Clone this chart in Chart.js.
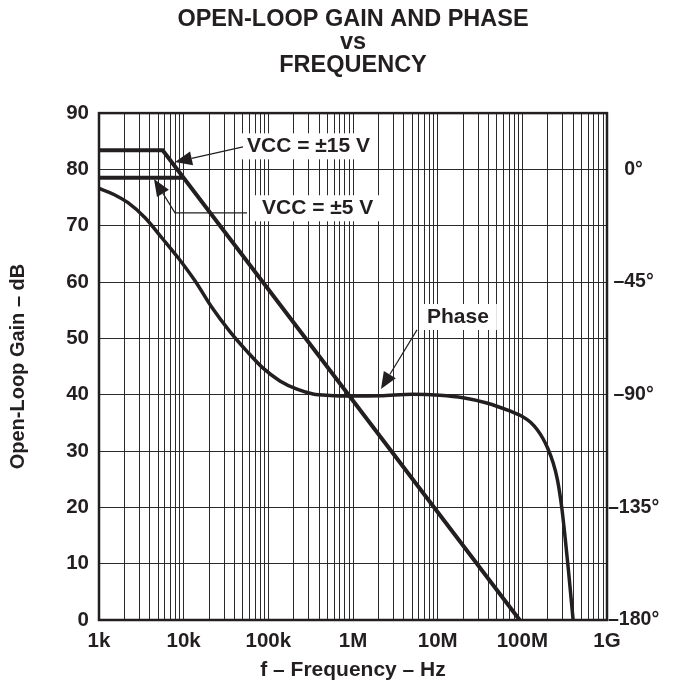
<!DOCTYPE html>
<html><head><meta charset="utf-8">
<script src="https://cdn.jsdelivr.net/npm/chart.js@4.4.1/dist/chart.umd.min.js"></script>
<style>html,body{margin:0;padding:0;background:#fff;}canvas{display:block;}</style>
</head><body>
<canvas id="c" width="676" height="683"></canvas>
<script>
// ---- data ----
const titleLines = ['OPEN-LOOP GAIN AND PHASE', 'vs', 'FREQUENCY'];
const freqDecades = [1e3, 1e4, 1e5, 1e6, 1e7, 1e8, 1e9];
const freqLabels = ['1k', '10k', '100k', '1M', '10M', '100M', '1G'];
const gainTicks = [0, 10, 20, 30, 40, 50, 60, 70, 80, 90];
const phaseTicks = [-180, -135, -90, -45, 0];
const phaseTickLabels = ['\u2013180\u00b0', '\u2013135\u00b0', '\u201390\u00b0', '\u201345\u00b0', '0\u00b0'];

const gain15Freq = [1000, 5650, 93e6];
const gain15dB = [83.4, 83.4, 0];
const gain5Freq = [1000, 9800];
const gain5dB = [78.5, 78.5];

const phaseFreq = [1000, 1500, 2200, 3500, 5550, 8600, 13600, 21600, 35000, 56000, 86000, 137000, 218000, 337000, 535000, 920000, 2.1e6, 5.1e6, 10.6e6, 20e6, 38e6, 71e6, 101e6, 125e6, 150e6, 175e6, 200e6, 230e6, 260e6, 292e6, 320e6, 350e6, 398e6];
const phaseDeg = [-7.6, -10, -13.3, -19.3, -27.4, -35.3, -44.5, -55.2, -64.7, -72.7, -79.3, -84.5, -87.8, -89.7, -90.3, -90.5, -90.4, -89.8, -90.2, -91.2, -93.3, -96.5, -98.8, -101, -104, -107.5, -111.5, -117, -124, -135, -147, -160, -180];

// annotation labels and their anchors (frequency, gain dB)
const annLabels = ['VCC = \u00b115 V', 'VCC = \u00b15 V', 'Phase'];
const annTextAt = [[56000, 84.1], [84100, 73.1], [7.48e6, 53.8]];
const annArrows = [
  [[50200, 84.0], [7900, 81.3]],
  [[56000, 72.3], [7900, 72.3], [4460, 78.3]],
  [[5.7e6, 51.5], [2.14e6, 41.0]]
];

// ---- chart ----
const INK = '#231f20';
const FONT = '"Liberation Sans", Arial, Helvetica, sans-serif';
const toXY = (xs, ys) => xs.map((x, i) => ({x: x, y: ys[i]}));

const annotationPlugin = {
  id: 'ann',
  beforeDatasetsDraw(chart) {
    const ctx = chart.ctx, sx = chart.scales.x, sy = chart.scales.y;
    ctx.save();
    ctx.font = 'bold 21px ' + FONT;
    annLabels.forEach((t, i) => {
      const x = sx.getPixelForValue(annTextAt[i][0]);
      const y = sy.getPixelForValue(annTextAt[i][1]);
      const w = ctx.measureText(t).width;
      ctx.fillStyle = '#fff';
      ctx.fillRect(x - 7, y - 13, w + 15, 26);
    });
    ctx.restore();
  },
  afterDatasetsDraw(chart) {
    const ctx = chart.ctx, sx = chart.scales.x, sy = chart.scales.y;
    const a = chart.chartArea;
    ctx.save();
    ctx.strokeStyle = INK; ctx.fillStyle = INK; ctx.lineWidth = 1.2;
    annArrows.forEach(path => {
      const pts = path.map(p => [sx.getPixelForValue(p[0]), sy.getPixelForValue(p[1])]);
      const n = pts.length;
      const tip = pts[n - 1], prev = pts[n - 2];
      const dx = tip[0] - prev[0], dy = tip[1] - prev[1];
      const L = Math.hypot(dx, dy), ux = dx / L, uy = dy / L;
      const hl = 17, hw = 7;
      const bx = tip[0] - ux * hl, by = tip[1] - uy * hl;
      ctx.beginPath();
      ctx.moveTo(pts[0][0], pts[0][1]);
      for (let k = 1; k < n - 1; k++) ctx.lineTo(pts[k][0], pts[k][1]);
      ctx.lineTo(bx, by);
      ctx.stroke();
      ctx.beginPath();
      ctx.moveTo(tip[0], tip[1]);
      ctx.lineTo(bx - uy * hw, by + ux * hw);
      ctx.lineTo(bx + uy * hw, by - ux * hw);
      ctx.closePath();
      ctx.fill();
    });
    ctx.font = 'bold 21px ' + FONT;
    ctx.textBaseline = 'middle';
    ctx.textAlign = 'left';
    annLabels.forEach((t, i) => {
      ctx.fillText(t, sx.getPixelForValue(annTextAt[i][0]), sy.getPixelForValue(annTextAt[i][1]));
    });
    ctx.lineWidth = 2.5;
    ctx.strokeRect(a.left, a.top, a.right - a.left, a.bottom - a.top);
    ctx.restore();
  }
};

new Chart(document.getElementById('c'), {
  type: 'line',
  data: {
    datasets: [
      {label: 'VCC = \u00b115 V', data: toXY(gain15Freq, gain15dB), yAxisID: 'y', borderColor: INK, borderWidth: 4, pointRadius: 0, tension: 0, order: 1},
      {label: 'VCC = \u00b15 V', data: toXY(gain5Freq, gain5dB), yAxisID: 'y', borderColor: INK, borderWidth: 4, pointRadius: 0, tension: 0, order: 1},
      {label: 'Phase', data: toXY(phaseFreq, phaseDeg), yAxisID: 'y1', borderColor: INK, borderWidth: 3.5, pointRadius: 0, cubicInterpolationMode: 'monotone', order: 0}
    ]
  },
  options: {
    responsive: false,
    animation: false,
    devicePixelRatio: 1,
    layout: {padding: 0},
    plugins: {
      legend: {display: false},
      tooltip: {enabled: false},
      title: {
        display: true, text: titleLines, fullSize: false, color: INK,
        font: {family: FONT, size: 23.5, weight: 'bold', lineHeight: 0.98},
        padding: {top: 8, bottom: 36}
      }
    },
    scales: {
      x: {
        type: 'logarithmic', min: 1e3, max: 1e9,
        afterBuildTicks(scale) {
          const t = [];
          for (let d = 0; d < freqDecades.length - 1; d++) {
            for (let m = 1; m <= 9; m++) t.push({value: m * freqDecades[d]});
          }
          t.push({value: freqDecades[freqDecades.length - 1]});
          scale.ticks = t;
        },
        afterFit(scale) { scale.height = 63; },
        ticks: {
          autoSkip: false, maxRotation: 0, padding: 9, color: INK,
          font: {family: FONT, size: 20.5, weight: 'bold'},
          callback(v) { const i = freqDecades.indexOf(v); return i >= 0 ? freqLabels[i] : ''; }
        },
        grid: {color: '#2a2a2a', lineWidth: 1, drawTicks: false},
        border: {display: false},
        title: {display: true, text: 'f \u2013 Frequency \u2013 Hz', color: INK, font: {family: FONT, size: 21, weight: 'bold', lineHeight: 1.2}, padding: {top: 0, bottom: 0}}
      },
      y: {
        type: 'linear', position: 'left', min: 0, max: 90,
        afterBuildTicks(scale) { scale.ticks = gainTicks.map(v => ({value: v})); },
        afterFit(scale) { scale.width = 99; },
        ticks: {padding: 10, color: INK, font: {family: FONT, size: 20.5, weight: 'bold'}},
        grid: {color: '#2a2a2a', lineWidth: 1, drawTicks: false},
        border: {display: false},
        title: {display: true, text: 'Open-Loop Gain \u2013 dB', color: INK, font: {family: FONT, size: 20, weight: 'bold', lineHeight: 1.2}, padding: {top: 6, bottom: 0}}
      },
      y1: {
        type: 'linear', position: 'right', min: -180, max: 22.5,
        afterBuildTicks(scale) { scale.ticks = phaseTicks.map(v => ({value: v})); },
        afterFit(scale) { scale.width = 69; },
        ticks: {
          padding: 1, crossAlign: 'center', color: INK,
          font: {family: FONT, size: 19.5, weight: 'bold'},
          callback(v) { const i = phaseTicks.indexOf(v); return i >= 0 ? phaseTickLabels[i] : ''; }
        },
        grid: {display: false, drawTicks: false},
        border: {display: false}
      }
    }
  },
  plugins: [annotationPlugin]
});
</script>
</body></html>
